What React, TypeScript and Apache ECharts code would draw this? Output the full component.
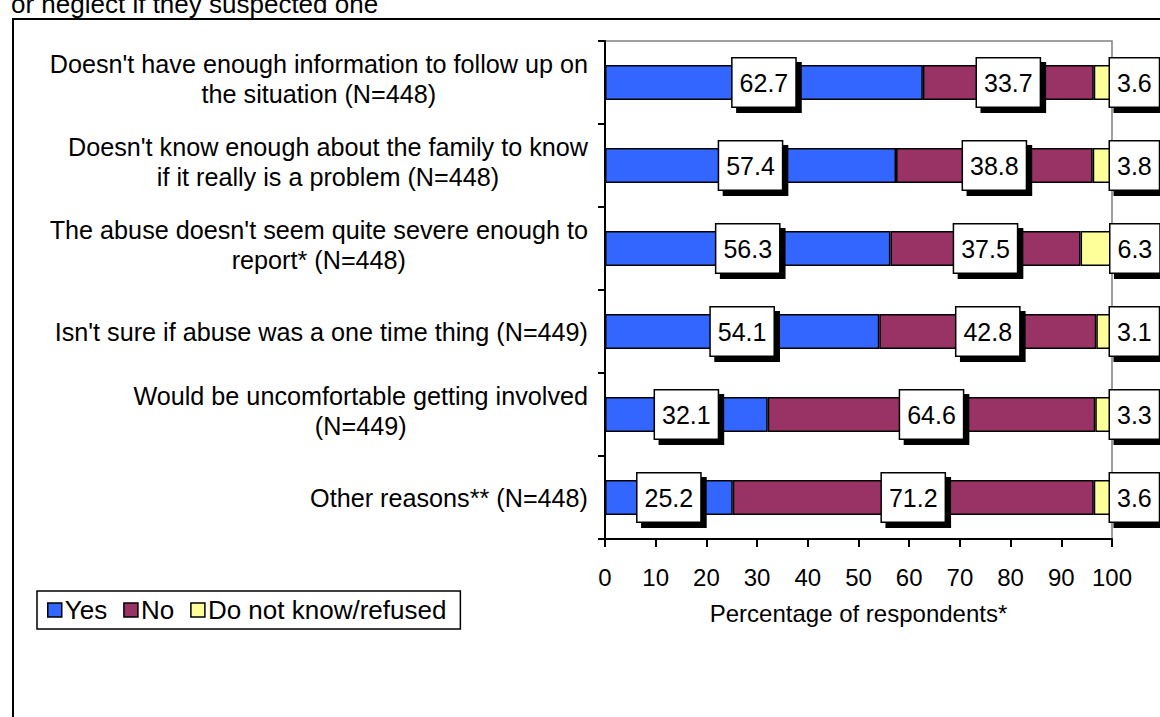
import React, { useEffect, useRef } from "react";
import * as echarts from "echarts";

const categories = [
  ["Doesn't have enough information to follow up on", "the situation (N=448)"],
  ["Doesn't know enough about the family to know", "if it really is a problem (N=448)"],
  ["The abuse doesn't seem quite severe enough to", "report* (N=448)"],
  ["Isn't sure if abuse was a one time thing (N=449)"],
  ["Would be uncomfortable getting involved", "(N=449)"],
  ["Other reasons** (N=448)"],
];

const yesValues = [62.7, 57.4, 56.3, 54.1, 32.1, 25.2];
const noValues = [33.7, 38.8, 37.5, 42.8, 64.6, 71.2];
const dkValues = [3.6, 3.8, 6.3, 3.1, 3.3, 3.6];

const seriesNames = ["Yes", "No", "Do not know/refused"];
const seriesColors = ["#3366FF", "#993366", "#FFFF99"];

const FONT = "Arial, 'Liberation Sans', sans-serif";

export default function App() {
  const ref = useRef<HTMLDivElement>(null);

  useEffect(() => {
    if (!ref.current) return;
    const chart = echarts.init(ref.current, null, { renderer: "svg" });

    const boxLabel = (position: any, extra: any = {}) => ({
      show: true,
      position,
      formatter: (p: any) => Number(p.value).toFixed(1),
      color: "#000",
      fontFamily: FONT,
      fontSize: 25,
      lineHeight: 28,
      backgroundColor: "#fff",
      borderColor: "#000",
      borderWidth: 1.5,
      padding: [10, 7, 10, 7],
      shadowColor: "#000",
      shadowOffsetX: 5,
      shadowOffsetY: 5,
      shadowBlur: 0,
      ...extra,
    });

    const values = [yesValues, noValues, dkValues];

    chart.setOption({
      animation: false,
      textStyle: { fontFamily: FONT },
      grid: {
        left: 605,
        right: 48,
        top: 41,
        bottom: 178,
        show: true,
        borderColor: "#808080",
        borderWidth: 1.5,
        backgroundColor: "transparent",
      },
      legend: {
        left: 37,
        top: 591,
        orient: "horizontal",
        itemWidth: 14,
        itemHeight: 14,
        itemGap: 16,
        padding: [6, 14, 6, 10],
        borderColor: "#000",
        borderWidth: 1.5,
        backgroundColor: "#fff",
        textStyle: { fontSize: 26, color: "#000", fontFamily: FONT, padding: [0, 0, 0, -2] },
        icon: "rect",
        itemStyle: { borderColor: "#000", borderWidth: 1.5 },
        data: seriesNames,
      },
      xAxis: {
        type: "value",
        min: 0,
        max: 100,
        interval: 10,
        name: "Percentage of respondents*",
        nameLocation: "middle",
        nameGap: 62,
        nameTextStyle: { fontSize: 24, color: "#000", fontFamily: FONT },
        axisLine: { show: true, lineStyle: { color: "#000", width: 2 } },
        axisTick: { show: true, length: 8, lineStyle: { color: "#000", width: 2 } },
        axisLabel: { fontSize: 24, color: "#000", margin: 26, fontFamily: FONT },
        splitLine: { show: false },
      },
      yAxis: {
        type: "category",
        inverse: true,
        data: categories.map((c) => c.join("\n")),
        axisLine: { show: true, lineStyle: { color: "#000", width: 2 } },
        axisTick: { show: true, length: 7, lineStyle: { color: "#000", width: 2 } },
        axisLabel: {
          margin: 17,
          fontFamily: FONT,
          color: "#000",
          formatter: (v: string) => {
            const lines = v.split("\n");
            const body = lines.map((line) => `{c|${line}}`).join("\n");
            // two-line labels sit a little above the bar centre
            return lines.length > 1 ? `${body}\n{s| }` : body;
          },
          rich: {
            c: {
              fontSize: 25.2,
              lineHeight: 30,
              align: "center",
              color: "#000",
              fontFamily: FONT,
            },
            s: { fontSize: 1, lineHeight: 8 },
          },
        },
      },
      series: seriesNames.map((name, i) => ({
        name,
        type: "bar",
        stack: "total",
        barWidth: 35,
        data: values[i],
        itemStyle: { color: seriesColors[i], borderColor: "#000", borderWidth: 1.5 },
        label: i < 2 ? boxLabel("inside") : boxLabel("right", { distance: -2 }),
        z: 2,
      })),
      graphic: [
        {
          type: "text",
          left: 11,
          top: -9,
          style: {
            text: "or neglect if they suspected one",
            fontSize: 26,
            fontFamily: FONT,
            fill: "#000",
          },
          silent: true,
        },
        {
          type: "rect",
          shape: { x: 13, y: 19, width: 1300, height: 900 },
          style: { fill: "none", stroke: "#000", lineWidth: 2 },
          silent: true,
          z: -10,
        },
      ],
    });

    return () => chart.dispose();
  }, []);

  return (
    <div
      ref={ref}
      style={{ position: "fixed", left: 0, top: 0, width: 1160, height: 717, background: "#fff" }}
    />
  );
}
